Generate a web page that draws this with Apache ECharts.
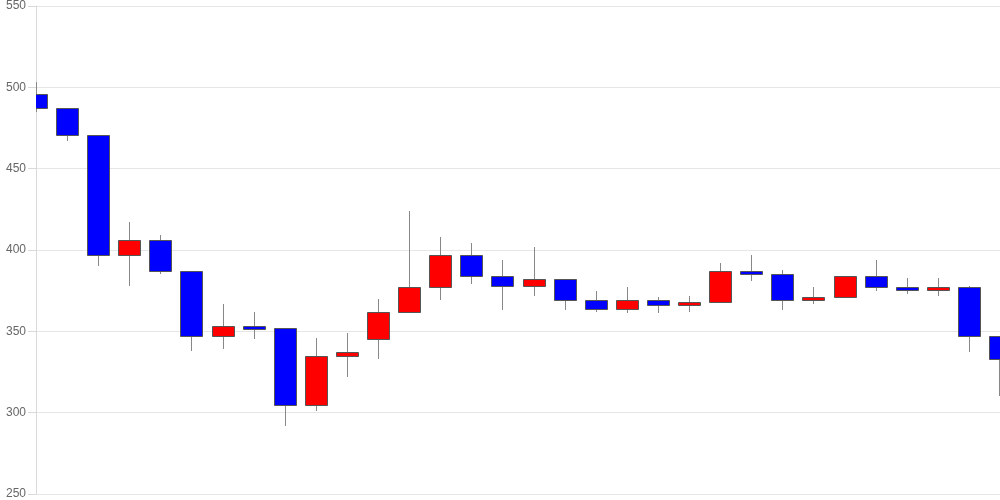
<!DOCTYPE html>
<html>
<head>
<meta charset="utf-8">
<script src="https://cdn.jsdelivr.net/npm/echarts@6/dist/echarts.min.js"></script>
<style>html,body{margin:0;padding:0;background:#fff}#c{width:1000px;height:500px}</style>
</head>
<body>
<div id="c"></div>
<script>
var categories = ['1','2','3','4','5','6','7','8','9','10','11','12','13','14','15','16','17','18','19','20','21','22','23','24','25','26','27','28','29','30','31','32'];
var opens  = [496, 487, 471, 397, 406, 387, 347, 353.3, 352, 305, 335, 345, 362, 377, 397, 384, 378, 382, 369, 364, 369, 366, 368, 387, 385, 369, 371, 384, 377.3, 376.3, 377, 347];
var closes = [487, 471, 397, 406, 387, 347, 353, 352.3, 305, 335, 337, 362, 377, 397, 384, 378, 382, 369, 364, 369, 366, 368, 387, 385, 369, 371, 384, 377, 376.3, 377.3, 347, 333];
var lows   = [485, 467, 390, 378, 385, 338, 339, 345, 292, 301, 322, 333, 361, 369, 379, 363, 372, 363, 362, 361, 361, 362, 368, 381, 363, 367, 371, 375, 373, 372, 337, 310];
var highs  = [503, 487, 471, 417, 409, 387, 367, 362, 352, 346, 349, 370, 424, 408, 404, 394, 402, 382, 375, 377, 371, 372, 392, 397, 388, 377, 384, 394, 383, 383, 378, 347];
var yTicks = [250, 300, 350, 400, 450, 500, 550];

var data = categories.map(function (c, i) { return [i, opens[i], closes[i], lows[i], highs[i]]; });

function renderItem(params, api) {
  var idx = api.value(0), o = api.value(1), c = api.value(2), l = api.value(3), h = api.value(4);
  var pO = api.coord([idx, o]), pC = api.coord([idx, c]), pL = api.coord([idx, l]), pH = api.coord([idx, h]);
  var cs = params.coordSys;
  var x = Math.round(pO[0]);
  var lx = Math.min(x + 0.5, cs.x + cs.width - 0.5);
  var w = 22;
  var top = Math.round(Math.min(pO[1], pC[1]));
  var bot = Math.round(Math.max(pO[1], pC[1]));
  if (bot - top < 3) { top = Math.round((top + bot) / 2 - 1.5); bot = top + 3; }
  var up = c >= o;
  return {
    type: 'group',
    children: [
      {type: 'line', shape: {x1: lx, y1: Math.round(pH[1]), x2: lx, y2: Math.round(pL[1])},
       style: {stroke: '#888', lineWidth: 1}},
      {type: 'rect', shape: {x: x - w / 2 + 0.5, y: top + 0.5, width: w, height: bot - top},
       style: {fill: up ? '#ff0000' : '#0000ff', stroke: '#555', lineWidth: 1}}
    ]
  };
}

var chart = echarts.init(document.getElementById('c'), null, {renderer: 'canvas'});
chart.setOption({
  animation: false,
  backgroundColor: '#fff',
  grid: {left: 36, right: 0, top: 6, bottom: 6},
  xAxis: {
    type: 'category',
    data: categories,
    boundaryGap: false,
    axisLine: {show: false},
    axisTick: {show: false},
    axisLabel: {show: false},
    splitLine: {show: false}
  },
  yAxis: {
    type: 'value',
    min: yTicks[0],
    max: yTicks[yTicks.length - 1],
    interval: 50,
    axisLine: {show: true, lineStyle: {color: '#d9d9d9'}},
    axisTick: {show: true, length: 8, lineStyle: {color: '#d9d9d9'}},
    axisLabel: {color: '#666', fontSize: 12, fontFamily: 'Liberation Sans, Arial, sans-serif', margin: 10},
    splitLine: {show: true, lineStyle: {color: '#e6e6e6'}}
  },
  series: [{
    type: 'custom',
    data: data,
    clip: true,
    encode: {x: 0, y: [1, 2, 3, 4]},
    renderItem: renderItem
  }]
});
</script>
</body>
</html>
